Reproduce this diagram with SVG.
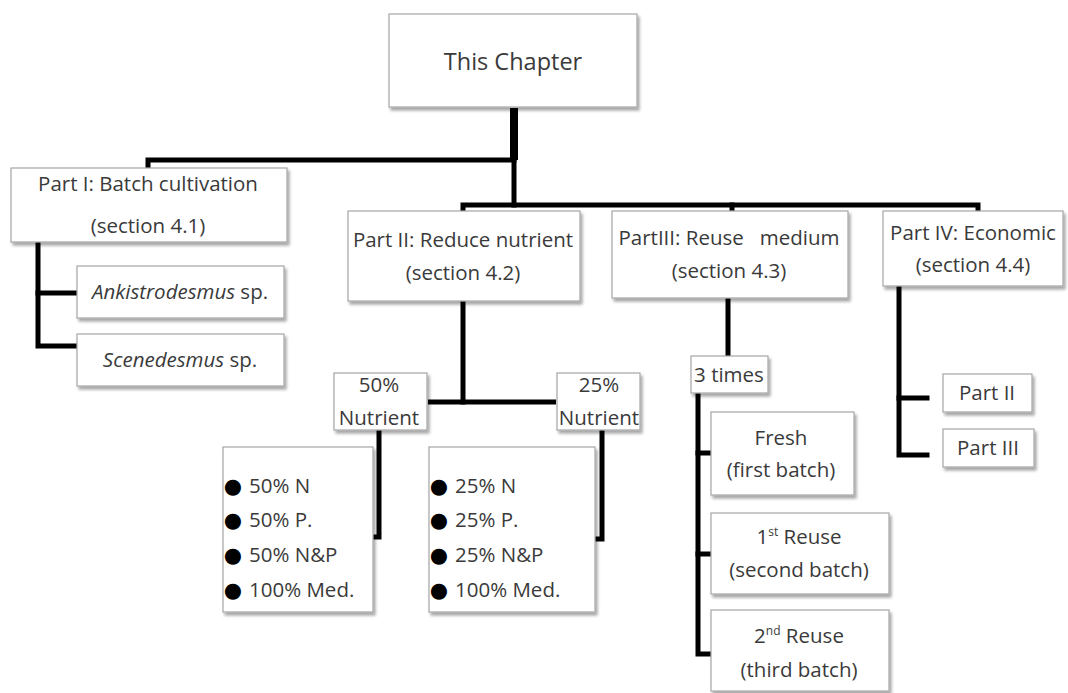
<svg xmlns="http://www.w3.org/2000/svg" width="1068" height="693" viewBox="0 0 1068 693">
<defs>
<filter id="sh" x="-10%" y="-10%" width="130%" height="140%">
<feDropShadow dx="2" dy="3" stdDeviation="1.8" flood-color="#000" flood-opacity="0.35"/>
</filter>
<style>
.box{fill:#fff;stroke:#a6a6a6;stroke-width:1.2;filter:url(#sh)}
.t{font-family:"Open Sans","Noto Sans",sans-serif;font-size:20.5px;fill:#3a3a3a;text-anchor:middle}
.l{font-family:"Open Sans","Noto Sans",sans-serif;font-size:20.5px;fill:#3a3a3a}
.b{font-family:"DejaVu Sans",sans-serif;font-size:21px;fill:#000;text-anchor:middle}
.c{fill:none;stroke:#000;stroke-width:5;stroke-linejoin:miter;stroke-linecap:square}
</style>
</defs>
<rect width="1068" height="693" fill="#fff"/>
<g id="connectors">
<path class="c" d="M514,108 V160" style="stroke-width:8;stroke-linecap:butt"/>
<path class="c" d="M148,167 V160 H514"/>
<path class="c" d="M514,160 V205"/>
<path class="c" d="M463,210 V205 H978 V210"/>
<path class="c" d="M732,205 V210"/>
<path class="c" d="M38,243 V346 H76"/>
<path class="c" d="M38,293 H76"/>
<path class="c" d="M463,302 V402"/>
<path class="c" d="M428,402 H556" style="stroke-linecap:butt"/>
<path class="c" d="M379,431 V537 H374"/>
<path class="c" d="M602,431 V539 H596"/>
<path class="c" d="M728,299 V355"/>
<path class="c" d="M698,394 V654 H710"/>
<path class="c" d="M698,453 H710"/>
<path class="c" d="M698,554 H710"/>
<path class="c" d="M899,287 V455 H927"/>
<path class="c" d="M899,398 H927"/>
</g>
<g id="this-chapter">
<rect class="box" x="389" y="14" width="248" height="93"/>
<text class="t" x="513" y="70" style="font-size:23.5px">This Chapter</text>
</g>
<g id="part1">
<rect class="box" x="11" y="168" width="276" height="74"/>
<text class="t" x="148" y="191">Part I: Batch cultivation</text>
<text class="t" x="148" y="233">(section 4.1)</text>
</g>
<g id="ankistrodesmus">
<rect class="box" x="77" y="266" width="207" height="52"/>
<text class="t" x="180" y="299"><tspan font-style="italic">Ankistrodesmus</tspan> sp.</text>
</g>
<g id="scenedesmus">
<rect class="box" x="77" y="334" width="207" height="52"/>
<text class="t" x="180" y="367"><tspan font-style="italic">Scenedesmus</tspan> sp.</text>
</g>
<g id="part2">
<rect class="box" x="348" y="211" width="232" height="90"/>
<text class="t" x="463" y="247">Part II: Reduce nutrient</text>
<text class="t" x="463" y="280">(section 4.2)</text>
</g>
<g id="part3">
<rect class="box" x="612" y="211" width="236" height="87"/>
<text class="t" x="729" y="245" xml:space="preserve">PartIII: Reuse   medium</text>
<text class="t" x="729" y="278">(section 4.3)</text>
</g>
<g id="part4">
<rect class="box" x="883" y="211" width="180" height="75"/>
<text class="t" x="973" y="240">Part IV: Economic</text>
<text class="t" x="973" y="272">(section 4.4)</text>
</g>
<g id="n50">
<rect class="box" x="334" y="373" width="93" height="57"/>
<text class="t" x="379" y="392">50%</text>
<text class="t" x="379" y="425">Nutrient</text>
</g>
<g id="n25">
<rect class="box" x="557" y="373" width="83" height="57"/>
<text class="t" x="599" y="392">25%</text>
<text class="t" x="599" y="425">Nutrient</text>
</g>
<g id="list50">
<rect class="box" x="223" y="447" width="150" height="165"/>
<text class="b" x="233" y="493">●</text><text class="l" x="249" y="493">50% N</text>
<text class="b" x="233" y="527">●</text><text class="l" x="249" y="527">50% P.</text>
<text class="b" x="233" y="562">●</text><text class="l" x="249" y="562">50% N&amp;P</text>
<text class="b" x="233" y="597">●</text><text class="l" x="249" y="597">100% Med.</text>
</g>
<g id="list25">
<rect class="box" x="429" y="447" width="166" height="165"/>
<text class="b" x="439" y="493">●</text><text class="l" x="455" y="493">25% N</text>
<text class="b" x="439" y="527">●</text><text class="l" x="455" y="527">25% P.</text>
<text class="b" x="439" y="562">●</text><text class="l" x="455" y="562">25% N&amp;P</text>
<text class="b" x="439" y="597">●</text><text class="l" x="455" y="597">100% Med.</text>
</g>
<g id="times3">
<rect class="box" x="691" y="356" width="77" height="37"/>
<text class="t" x="729" y="382">3 times</text>
</g>
<g id="fresh">
<rect class="box" x="711" y="412" width="143" height="83"/>
<text class="t" x="781" y="445">Fresh</text>
<text class="t" x="781" y="477">(first batch)</text>
</g>
<g id="reuse1">
<rect class="box" x="711" y="513" width="178" height="81"/>
<text class="t" x="799" y="544">1<tspan font-size="12" dy="-8">st</tspan><tspan dy="8"> Reuse</tspan></text>
<text class="t" x="799" y="577">(second batch)</text>
</g>
<g id="reuse2">
<rect class="box" x="711" y="610" width="178" height="81"/>
<text class="t" x="799" y="643">2<tspan font-size="12" dy="-8">nd</tspan><tspan dy="8"> Reuse</tspan></text>
<text class="t" x="799" y="677">(third batch)</text>
</g>
<g id="econ-part2">
<rect class="box" x="943" y="374" width="89" height="38"/>
<text class="t" x="987" y="400">Part II</text>
</g>
<g id="econ-part3">
<rect class="box" x="943" y="429" width="91" height="38"/>
<text class="t" x="988" y="455">Part III</text>
</g>
</svg>
